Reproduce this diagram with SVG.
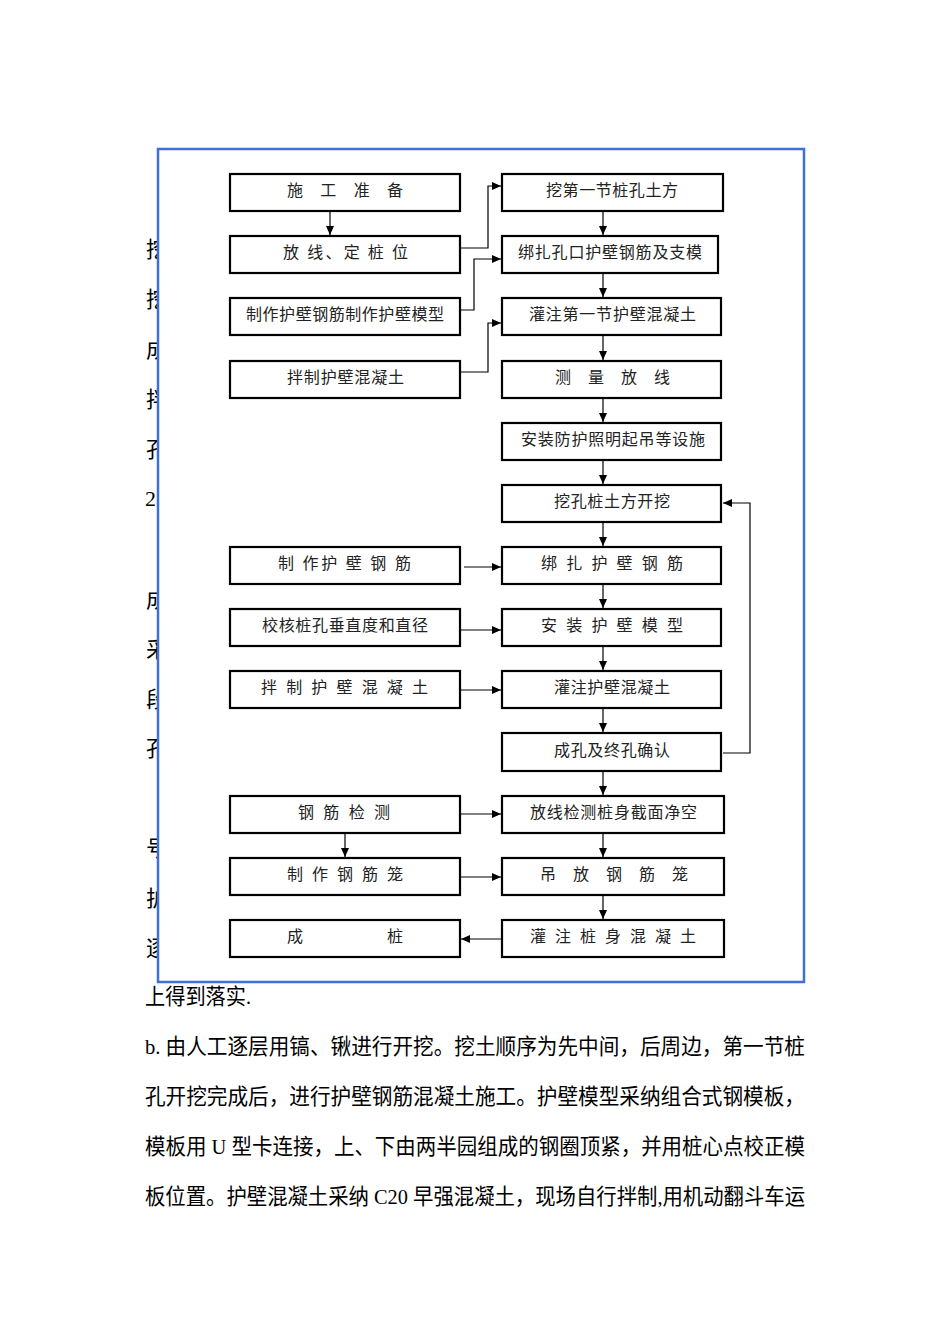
<svg xmlns="http://www.w3.org/2000/svg" width="950" height="1344" viewBox="0 0 950 1344">
<style>
.bg{font-family:"Liberation Serif","Noto Sans CJK SC",serif;font-size:22px;fill:#000}
.box{fill:#fff;stroke:#000;stroke-width:2.2}
.t{font-family:"Noto Sans CJK SC",sans-serif;font-size:16px;fill:#222}
.c{fill:none;stroke:#000;stroke-width:1.2}
</style>
<defs>
<marker id="ah" markerUnits="userSpaceOnUse" markerWidth="10" markerHeight="10" refX="9" refY="4" orient="auto">
<path d="M0,0 L9,4 L0,8 z" fill="#000"/>
</marker>
</defs>
<rect width="950" height="1344" fill="#fff"/>
<g id="body-text">
<text class="bg" x="146" y="257">挖</text>
<text class="bg" x="146" y="307">挖</text>
<text class="bg" x="146" y="357">成</text>
<text class="bg" x="146" y="407">拌</text>
<text class="bg" x="146" y="457">孔</text>
<text class="bg" x="145" y="506">2</text>
<text class="bg" x="146" y="607">成</text>
<text class="bg" x="146" y="657">采</text>
<text class="bg" x="146" y="707">段</text>
<text class="bg" x="146" y="756">孔</text>
<text class="bg" x="146" y="856">号</text>
<text class="bg" x="146" y="906">护</text>
<text class="bg" x="146" y="956">逐</text>
<text class="bg" x="145" y="1004" textLength="106" lengthAdjust="spacingAndGlyphs">上得到落实.</text>
<text class="bg" x="145" y="1054" textLength="660" lengthAdjust="spacingAndGlyphs">b. 由人工逐层用镐、锹进行开挖。挖土顺序为先中间，后周边，第一节桩</text>
<text class="bg" x="145" y="1104" textLength="660" lengthAdjust="spacingAndGlyphs">孔开挖完成后，进行护壁钢筋混凝土施工。护壁模型采纳组合式钢模板，</text>
<text class="bg" x="145" y="1154" textLength="660" lengthAdjust="spacingAndGlyphs">模板用 U 型卡连接，上、下由两半园组成的钢圈顶紧，并用桩心点校正模</text>
<text class="bg" x="145" y="1204" textLength="660" lengthAdjust="spacingAndGlyphs">板位置。护壁混凝土采纳 C20 早强混凝土，现场自行拌制,用机动翻斗车运</text>
</g>
<rect id="frame" x="158" y="149" width="646" height="833" fill="#fff" stroke="#3f6fd8" stroke-width="2.5"/>
<g id="connectors">
<line class="c" x1="330" y1="212" x2="330" y2="235" marker-end="url(#ah)"/>
<polyline class="c" points="461,248 488,248 488,186 501,186" marker-end="url(#ah)"/>
<polyline class="c" points="461,310 474,310 474,259 501,259" marker-end="url(#ah)"/>
<polyline class="c" points="461,372 488,372 488,323 501,323" marker-end="url(#ah)"/>
<line class="c" x1="603" y1="212" x2="603" y2="235" marker-end="url(#ah)"/>
<line class="c" x1="603" y1="274" x2="603" y2="297" marker-end="url(#ah)"/>
<line class="c" x1="603" y1="336" x2="603" y2="360" marker-end="url(#ah)"/>
<line class="c" x1="603" y1="399" x2="603" y2="422" marker-end="url(#ah)"/>
<line class="c" x1="603" y1="461" x2="603" y2="484" marker-end="url(#ah)"/>
<line class="c" x1="603" y1="523" x2="603" y2="546" marker-end="url(#ah)"/>
<line class="c" x1="603" y1="585" x2="603" y2="608" marker-end="url(#ah)"/>
<line class="c" x1="603" y1="647" x2="603" y2="670" marker-end="url(#ah)"/>
<line class="c" x1="603" y1="709" x2="603" y2="732" marker-end="url(#ah)"/>
<line class="c" x1="603" y1="771" x2="603" y2="795" marker-end="url(#ah)"/>
<line class="c" x1="603" y1="834" x2="603" y2="857" marker-end="url(#ah)"/>
<line class="c" x1="603" y1="896" x2="603" y2="919" marker-end="url(#ah)"/>
<polyline class="c" points="723,753 750,753 750,503 723,503" marker-end="url(#ah)"/>
<line class="c" x1="464" y1="567" x2="501" y2="567" marker-end="url(#ah)"/>
<line class="c" x1="461" y1="630" x2="501" y2="630" marker-end="url(#ah)"/>
<line class="c" x1="461" y1="690" x2="501" y2="690" marker-end="url(#ah)"/>
<line class="c" x1="461" y1="814" x2="501" y2="814" marker-end="url(#ah)"/>
<line class="c" x1="461" y1="877" x2="501" y2="877" marker-end="url(#ah)"/>
<line class="c" x1="501" y1="939" x2="461" y2="939" marker-end="url(#ah)"/>
<line class="c" x1="345" y1="834" x2="345" y2="857" marker-end="url(#ah)"/>
</g>
<g id="n-shigong"><rect class="box" x="230" y="174" width="230" height="37"/><text class="t" x="287" y="196" textLength="116" lengthAdjust="spacing">施 工 准 备</text></g>
<g id="n-fangxian"><rect class="box" x="230" y="236" width="230" height="37"/><text class="t" x="283" y="258" textLength="125" lengthAdjust="spacing">放 线、定 桩 位</text></g>
<g id="n-zhizuo"><rect class="box" x="230" y="298" width="230" height="37"/><text class="t" x="246" y="320" textLength="198" lengthAdjust="spacing">制作护壁钢筋制作护壁模型</text></g>
<g id="n-banzhi1"><rect class="box" x="230" y="361" width="230" height="37"/><text class="t" x="287" y="383" textLength="117" lengthAdjust="spacing">拌制护壁混凝土</text></g>
<g id="n-wa1"><rect class="box" x="502" y="174" width="221" height="37"/><text class="t" x="546" y="196" textLength="132" lengthAdjust="spacing">挖第一节桩孔土方</text></g>
<g id="n-bangza1"><rect class="box" x="502" y="236" width="216" height="37"/><text class="t" x="518" y="258" textLength="184" lengthAdjust="spacing">绑扎孔口护壁钢筋及支模</text></g>
<g id="n-guanzhu1"><rect class="box" x="502" y="298" width="219" height="37"/><text class="t" x="529" y="320" textLength="167" lengthAdjust="spacing">灌注第一节护壁混凝土</text></g>
<g id="n-celiang"><rect class="box" x="502" y="361" width="219" height="37"/><text class="t" x="555" y="383" textLength="115" lengthAdjust="spacing">测 量 放 线</text></g>
<g id="n-anzhuang"><rect class="box" x="502" y="423" width="219" height="37"/><text class="t" x="521" y="445" textLength="184" lengthAdjust="spacing">安装防护照明起吊等设施</text></g>
<g id="n-wakong"><rect class="box" x="502" y="485" width="219" height="37"/><text class="t" x="554" y="507" textLength="116" lengthAdjust="spacing">挖孔桩土方开挖</text></g>
<g id="n-zhizuogj"><rect class="box" x="230" y="547" width="230" height="37"/><text class="t" x="278" y="569" textLength="133" lengthAdjust="spacing">制 作护 壁 钢 筋</text></g>
<g id="n-bangza2"><rect class="box" x="502" y="547" width="219" height="37"/><text class="t" x="541" y="569" textLength="142" lengthAdjust="spacing">绑 扎 护 壁 钢 筋</text></g>
<g id="n-jiaohe"><rect class="box" x="230" y="609" width="230" height="37"/><text class="t" x="262" y="631" textLength="166" lengthAdjust="spacing">校核桩孔垂直度和直径</text></g>
<g id="n-anzhuangmx"><rect class="box" x="502" y="609" width="219" height="37"/><text class="t" x="541" y="631" textLength="142" lengthAdjust="spacing">安 装 护 壁 模 型</text></g>
<g id="n-banzhi2"><rect class="box" x="230" y="671" width="230" height="37"/><text class="t" x="261" y="693" textLength="167" lengthAdjust="spacing">拌 制 护 壁 混 凝 土</text></g>
<g id="n-guanzhu2"><rect class="box" x="502" y="671" width="219" height="37"/><text class="t" x="554" y="693" textLength="116" lengthAdjust="spacing">灌注护壁混凝土</text></g>
<g id="n-chengkong"><rect class="box" x="502" y="733" width="219" height="38"/><text class="t" x="554" y="756" textLength="116" lengthAdjust="spacing">成孔及终孔确认</text></g>
<g id="n-gangjinjc"><rect class="box" x="230" y="796" width="230" height="37"/><text class="t" x="298" y="818" textLength="92" lengthAdjust="spacing">钢 筋 检 测</text></g>
<g id="n-fangxianjc"><rect class="box" x="502" y="796" width="222" height="37"/><text class="t" x="530" y="818" textLength="167" lengthAdjust="spacing">放线检测桩身截面净空</text></g>
<g id="n-zhizuolong"><rect class="box" x="230" y="858" width="230" height="37"/><text class="t" x="287" y="880" textLength="116" lengthAdjust="spacing">制 作 钢 筋 笼</text></g>
<g id="n-diaofang"><rect class="box" x="502" y="858" width="222" height="37"/><text class="t" x="540" y="880" textLength="148" lengthAdjust="spacing">吊 放 钢 筋 笼</text></g>
<g id="n-chengzhuang"><rect class="box" x="230" y="920" width="230" height="37"/><text class="t" x="287" y="942" textLength="116" lengthAdjust="spacing">成 桩</text></g>
<g id="n-guanzhuzs"><rect class="box" x="502" y="920" width="222" height="37"/><text class="t" x="530" y="942" textLength="166" lengthAdjust="spacing">灌 注 桩 身 混 凝 土</text></g>
</svg>
